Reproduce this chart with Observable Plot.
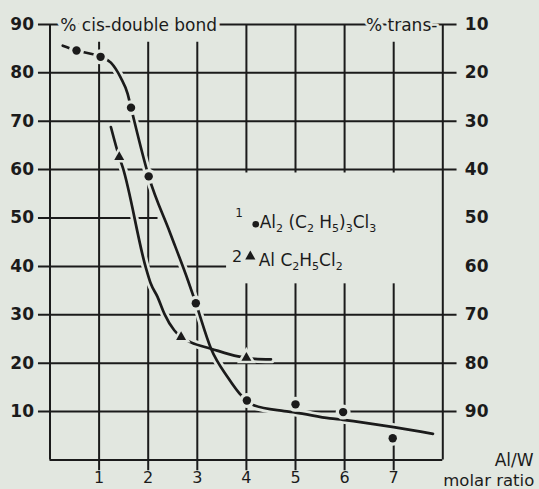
<!DOCTYPE html>
<html>
<head>
<meta charset="utf-8">
<script src="https://cdn.jsdelivr.net/npm/d3@7"></script>
<script src="https://cdn.jsdelivr.net/npm/@observablehq/plot@0.6"></script>
<style>
html, body { margin: 0; padding: 0; background: #e2e7e0; }
svg { display: block; }
</style>
</head>
<body>
<div id="chart"></div>
<script>
// ---- data ----
const xTicks = [1, 2, 3, 4, 5, 6, 7];
const yTicks = [10, 20, 30, 40, 50, 60, 70, 80, 90];

// series 1: Al2(C2H5)3Cl3 (circles) – measured points
const ratio1 = [0.54, 1.03, 1.65, 2.01, 2.97, 4.01, 5.0, 5.97, 6.98];
const cis1   = [84.6, 83.3, 72.8, 58.6, 32.4, 12.3, 11.5, 9.9, 4.5];
// series 2: AlC2H5Cl2 (triangles) – measured points
const ratio2 = [1.41, 2.67, 4.0];
const cis2   = [62.6, 25.4, 21.1];

// hand-drawn fitted curves
const fitRatio1 = [0.26, 0.54, 1.03, 1.24, 1.44, 1.58, 1.65, 2.01, 2.45, 2.81, 2.97, 3.28, 3.62, 3.9, 4.01, 4.15, 4.77, 5.0, 5.7, 5.97, 7.0, 7.8];
const fitCis1   = [85.6, 84.6, 83.3, 82.1, 79.0, 75.7, 72.8, 58.6, 46.8, 37.1, 32.4, 23.0, 17.1, 13.3, 12.3, 11.3, 10.1, 9.8, 8.6, 8.3, 6.8, 5.4];
const fitRatio2 = [1.24, 1.41, 1.48, 1.95, 2.05, 2.19, 2.33, 2.53, 2.67, 2.87, 3.28, 3.83, 4.0, 4.17, 4.5];
const fitCis2   = [68.8, 62.6, 60.5, 39.8, 36.5, 33.7, 30.2, 26.8, 25.4, 24.3, 23.0, 21.4, 21.1, 20.9, 20.8];

const legendLabels = ["Al_2 (C_2 H_5)_3Cl_3", "Al C_2H_5Cl_2"];
const legendNumbers = ["1", "2"];
const topLeftLabel = "% cis-double bond";
const topRightLabel = "% trans-";
const xLabel1 = "Al/W";
const xLabel2 = "molar ratio";

// ---- build tables ----
const pts1 = ratio1.map((x, i) => ({x, y: cis1[i]}));
const pts2 = ratio2.map((x, i) => ({x, y: cis2[i]}));
const fit1 = fitRatio1.map((x, i) => ({x, y: fitCis1[i]}));
const fit2 = fitRatio2.map((x, i) => ({x, y: fitCis2[i]}));

// ---- styling / layout ----
const bg = "#e2e7e0";
const ink = "#1b1b1b";
const font = "'DejaVu Sans', sans-serif";
const fullGrid = [10, 20, 30, 60, 70, 80, 90];
const partGrid = [{y: 50, x2: 2.2}, {y: 40, x2: 3.6}];
const shortTop = [1, 2, 3, 7];
const curveType = "monotone-x";

const chart = Plot.plot({
  width: 539,
  height: 489,
  marginLeft: 49.5,
  marginRight: 96.7,
  marginTop: 23.9,
  marginBottom: 29.5,
  x: {domain: [0, 8], label: null},
  y: {domain: [0, 90], label: null},
  style: {background: bg, fontFamily: font, color: ink},
  marks: [
    // grid
    Plot.ruleY(fullGrid, {x1: -0.235, x2: 8.29, stroke: ink, strokeWidth: 2}),
    Plot.ruleY(partGrid, {y: "y", x1: -0.235, x2: "x2", stroke: ink, strokeWidth: 2}),
    Plot.ruleX(xTicks, {x: d => d, y1: -2.2, y2: d => shortTop.includes(d) ? 86.3 : 90, stroke: ink, strokeWidth: 2}),
    // frame
    Plot.ruleX([0, 8], {y1: 0, y2: 90, stroke: ink, strokeWidth: 2}),
    Plot.ruleY([0], {x1: 0, x2: 8, stroke: ink, strokeWidth: 2}),
    // legend background
    Plot.rect([0], {x1: 3.6, x2: 7.93, y1: 36.4, y2: 59.3, fill: bg}),
    // curves with halo
    Plot.line(fit1, {x: "x", y: "y", curve: curveType, stroke: bg, strokeWidth: 8}),
    Plot.line(fit2, {x: "x", y: "y", curve: curveType, stroke: bg, strokeWidth: 8}),
    Plot.line(fit1, {x: "x", y: "y", curve: curveType, stroke: ink, strokeWidth: 2.7}),
    Plot.line(fit2, {x: "x", y: "y", curve: curveType, stroke: ink, strokeWidth: 2.7}),
    // markers with halo
    Plot.dot(pts1, {x: "x", y: "y", r: 7.5, fill: bg}),
    Plot.dot(pts2, {x: "x", y: "y", r: 7, symbol: "triangle", fill: bg}),
    Plot.dot(pts1, {x: "x", y: "y", r: 4.2, fill: ink}),
    Plot.dot(pts2, {x: "x", y: "y", r: 3.7, symbol: "triangle", fill: ink}),
    // legend
    Plot.text([legendNumbers[0]], {x: 3.85, y: 51.0, text: d => d, fontSize: 12, fill: ink}),
    Plot.dot([0], {x: 4.19, y: 48.7, r: 3.3, fill: ink}),
    Plot.text([legendLabels[0]], {x: 4.27, y: 49.15, text: d => d, textAnchor: "start", fontSize: 17, fill: ink, letterSpacing: 1}),
    Plot.text([legendNumbers[1]], {x: 3.81, y: 41.9, text: d => d, fontSize: 16, fill: ink}),
    Plot.dot([0], {x: 4.08, y: 42.05, r: 3.8, symbol: "triangle", fill: ink}),
    Plot.text([legendLabels[1]], {x: 4.25, y: 41.3, text: d => d, textAnchor: "start", fontSize: 17, fill: ink, letterSpacing: 1}),
    // top labels on frame
    Plot.text([topLeftLabel], {x: 0.21, y: 90, dy: 1, text: d => d, textAnchor: "start", fontSize: 17, fill: ink, stroke: bg, strokeWidth: 8}),
    Plot.text([topRightLabel], {x: 7.89, y: 90, dy: 1, text: d => d, textAnchor: "end", fontSize: 17, fill: ink, stroke: bg, strokeWidth: 5}),
    // axes
    Plot.axisY({ticks: yTicks, anchor: "left", label: null, tickSize: 0, tickPadding: 16, fontSize: 17, fontWeight: "bold", fill: ink}),
    Plot.axisY({ticks: yTicks, anchor: "right", label: null, tickSize: 0, tickPadding: 22, tickFormat: d => String(100 - d), fontSize: 17, fontWeight: "bold", fill: ink}),
    Plot.axisX({ticks: xTicks, anchor: "bottom", label: null, tickSize: 0, tickPadding: 12, fontSize: 16, fill: ink}),
    // x-axis title
    Plot.text([xLabel1], {x: 9.85, y: -0.05, text: d => d, textAnchor: "end", fontSize: 17, fill: ink}),
    Plot.text([xLabel2], {x: 8.01, y: -4.25, text: d => d, textAnchor: "start", fontSize: 16.5, fill: ink})
  ]
});

// turn "_n" into real subscripts
d3.select(chart).selectAll("text").each(function () {
  const t = this.textContent;
  if (!/_\d/.test(t)) return;
  const parts = t.split(/(_\d)/).filter(s => s.length);
  const el = d3.select(this);
  el.text(null);
  let lowered = false;
  for (const p of parts) {
    if (p.startsWith("_")) {
      el.append("tspan").attr("font-size", 11).attr("dy", lowered ? 0 : 4).text(p.slice(1));
      lowered = true;
    } else {
      el.append("tspan").attr("dy", lowered ? -4 : 0).text(p);
      lowered = false;
    }
  }
});

document.getElementById("chart").appendChild(chart);
</script>
</body>
</html>
